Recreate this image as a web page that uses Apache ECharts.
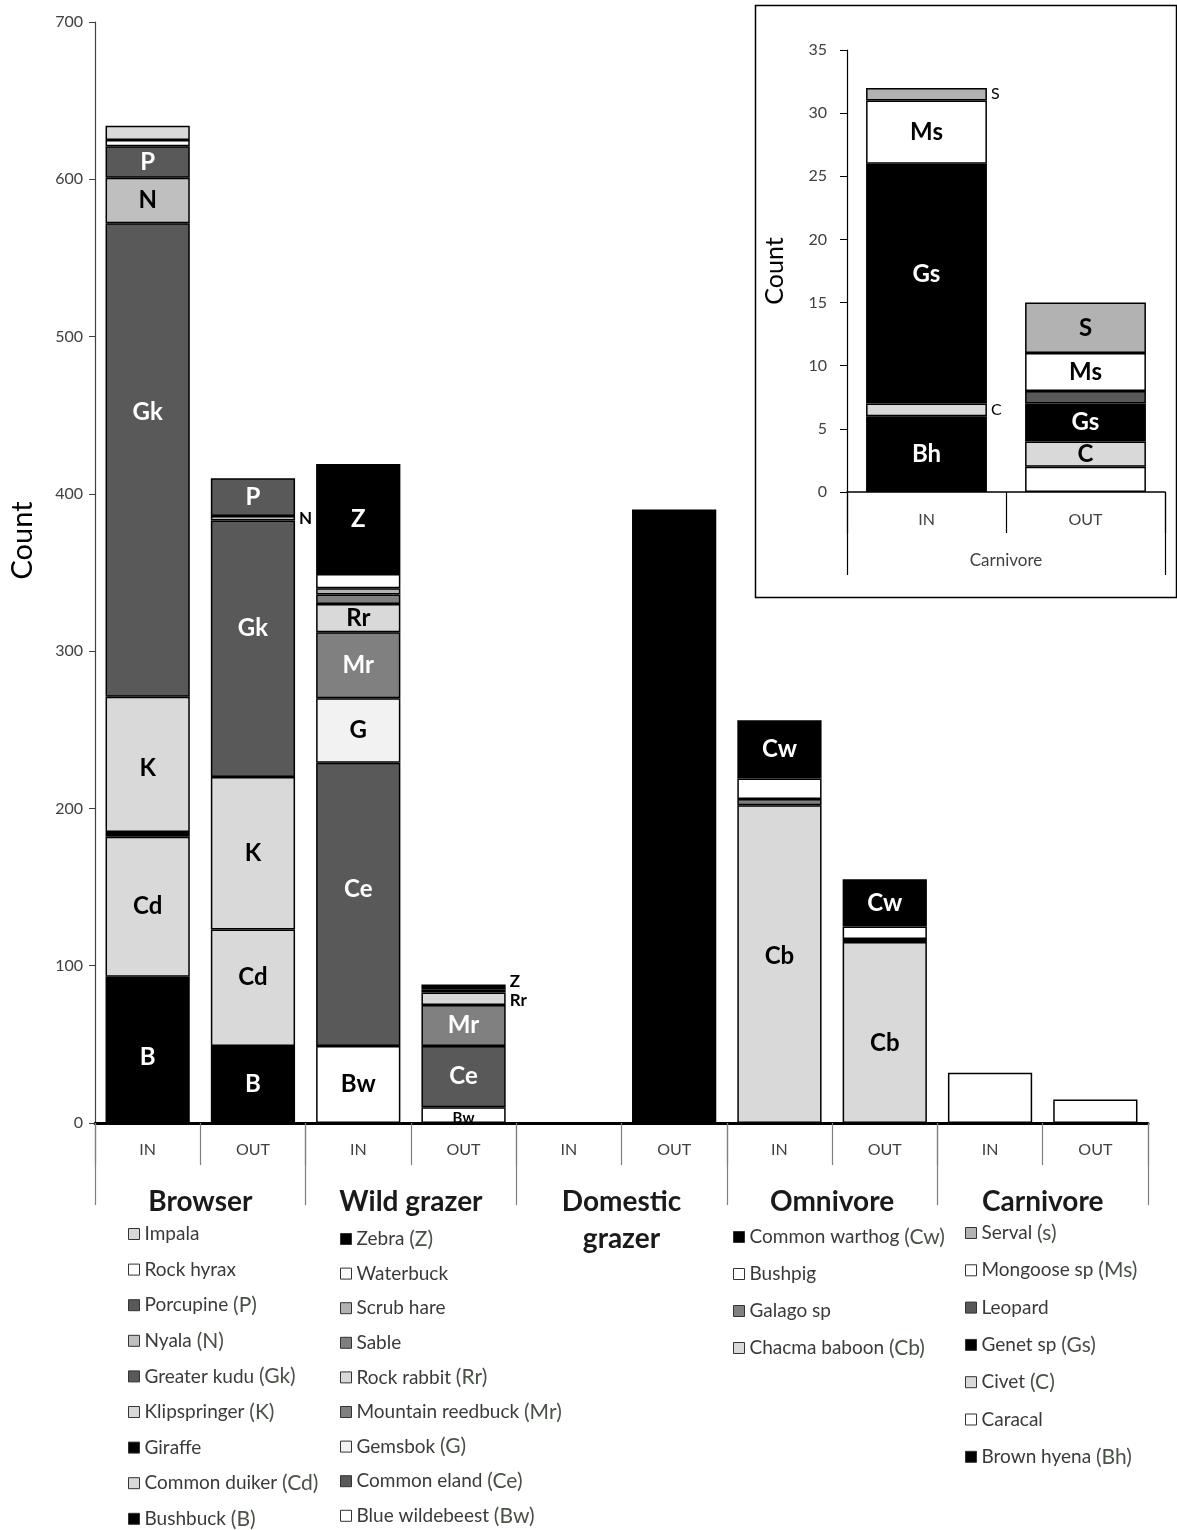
<!DOCTYPE html>
<html>
<head>
<meta charset="utf-8">
<script src="https://cdn.jsdelivr.net/npm/echarts@6/dist/echarts.min.js"></script>
<style>
  html, body { margin: 0; padding: 0; background: #ffffff; }
  #chart { width: 1177px; height: 1530px; }
</style>
</head>
<body>
<div id="chart"></div>
<script>
// ---- categories ----
const barLabels = ['IN', 'OUT', 'IN', 'OUT', 'IN', 'OUT', 'IN', 'OUT', 'IN', 'OUT'];
const groupNames = ['Browser', 'Wild grazer', 'Domestic\ngrazer', 'Omnivore', 'Carnivore'];
const insetBarLabels = ['IN', 'OUT'];
const insetGroup = ['Carnivore'];

// ---- species counts (each list runs bottom-to-top of its stack) ----
const browserSpecies = ['Bushbuck', 'Common duiker', 'Giraffe', 'Klipspringer', 'Greater kudu', 'Nyala', 'Porcupine', 'Rock hyrax', 'Impala'];
const browserAbbr    = ['B', 'Cd', '', 'K', 'Gk', 'N', 'P', '', ''];
const browserIn      = [93, 89, 3, 86, 301, 29, 20, 4, 9];
const browserOut     = [49, 74, 0, 97, 163, 3, 24, 0, 0];

const grazerSpecies = ['Blue wildebeest', 'Common eland', 'Gemsbok', 'Mountain reedbuck', 'Rock rabbit', 'Sable', 'Scrub hare', 'Waterbuck', 'Zebra'];
const grazerAbbr    = ['Bw', 'Ce', 'G', 'Mr', 'Rr', '', '', '', 'Z'];
const grazerIn      = [49, 180, 41, 42, 18, 6, 4, 9, 70];
const grazerOut     = [10, 39, 0, 26, 8, 1, 0, 1, 3];

const domesticIn  = 0;
const domesticOut = 390;

const omnivoreSpecies = ['Chacma baboon', 'Galago sp', 'Bushpig', 'Common warthog'];
const omnivoreAbbr    = ['Cb', '', '', 'Cw'];
const omnivoreIn      = [202, 4, 13, 37];
const omnivoreOut     = [115, 2, 8, 30];

const carnivoreSpecies = ['Brown hyena', 'Caracal', 'Civet', 'Genet sp', 'Leopard', 'Mongoose sp', 'Serval'];
const carnivoreAbbr    = ['Bh', '', 'C', 'Gs', '', 'Ms', 'S'];
const carnivoreIn      = [6, 0, 1, 19, 0, 5, 1];
const carnivoreOut     = [0, 2, 2, 3, 1, 3, 4];

// ---- fills ----
const browserFill   = ['#000000', '#d9d9d9', '#000000', '#d9d9d9', '#595959', '#bfbfbf', '#595959', '#ffffff', '#d9d9d9'];
const grazerFill    = ['#ffffff', '#595959', '#f2f2f2', '#808080', '#d9d9d9', '#7f7f7f', '#b2b2b2', '#ffffff', '#000000'];
const omnivoreFill  = ['#d9d9d9', '#808080', '#ffffff', '#000000'];
const carnivoreFill = ['#000000', '#ffffff', '#d9d9d9', '#000000', '#595959', '#ffffff', '#b2b2b2'];

// segment labels drawn beside a thin segment instead of inside it (species|0=IN,1=OUT)
const labelBeside = { 'Nyala|1': [0, 0], 'Rock rabbit|1': [0, 2], 'Zebra|1': [0, -5], 'Civet|0': [0, 0], 'Serval|0': [0, 0] };
// inside labels nudged away from the segment centre
const labelNudge = {
  'Greater kudu|0': [0, -48], 'Greater kudu|1': [0, -21], 'Common duiker|1': [0, -10],
  'Bushbuck|0': [0, 7], 'Common eland|0': [0, -15], 'Chacma baboon|0': [0, -8],
  'Chacma baboon|1': [0, 11], 'Genet sp|0': [0, -9], 'Klipspringer|0': [0, 4]
};
const labelSmall = { 'Blue wildebeest|1': true };
// legend abbreviation text where it differs from the bar label
const legendAbbrOverride = { 'Serval': 's' };

const FONT = 'Lato';
const darkFills = ['#000000', '#595959', '#808080', '#7f7f7f'];

function buildStack(species, abbr, fills, inVals, outVals, slot, nSlots, xAxisIndex, yAxisIndex, gap, inset) {
  return species.map(function (name, i) {
    const data = [];
    for (let k = 0; k < nSlots; k++) data.push('-');
    [inVals[i], outVals[i]].forEach(function (v, side) {
      if (!v) return;
      const item = { value: v };
      const key = name + '|' + side;
      if (abbr[i]) {
        if (labelBeside[key]) {
          item.label = {
            show: true, position: 'right', distance: 4, offset: labelBeside[key],
            formatter: abbr[i], color: '#000', fontSize: inset ? 16 : 17,
            fontWeight: inset ? 'normal' : 'bold', fontFamily: FONT
          };
        } else {
          const small = !!labelSmall[key];
          item.label = {
            show: true, position: small ? 'insideBottom' : 'inside', distance: -3,
            offset: labelNudge[key] || [0, 0],
            formatter: abbr[i],
            color: darkFills.indexOf(fills[i]) >= 0 ? '#ffffff' : '#000000',
            fontSize: small ? 15 : 24, fontWeight: 'bold', fontFamily: FONT
          };
        }
      }
      data[slot * 2 + side] = item;
    });
    return {
      name: name, type: 'bar', stack: inset ? 'inset' : 'main',
      xAxisIndex: xAxisIndex, yAxisIndex: yAxisIndex,
      barCategoryGap: gap,
      itemStyle: { color: fills[i], borderColor: '#000', borderWidth: 1.5 },
      label: { show: false },
      emphasis: { disabled: true },
      data: data
    };
  });
}

function sum(a) { return a.reduce(function (s, v) { return s + v; }, 0); }

const series = [].concat(
  buildStack(browserSpecies, browserAbbr, browserFill, browserIn, browserOut, 0, 10, 0, 0, '20%', false),
  buildStack(grazerSpecies, grazerAbbr, grazerFill, grazerIn, grazerOut, 1, 10, 0, 0, '20%', false),
  [{
    name: 'Domestic grazer', type: 'bar', stack: 'main', xAxisIndex: 0, yAxisIndex: 0, barCategoryGap: '20%',
    itemStyle: { color: '#000', borderColor: '#000', borderWidth: 1.5 }, emphasis: { disabled: true },
    data: ['-', '-', '-', '-', domesticIn || '-', domesticOut, '-', '-', '-', '-']
  }],
  buildStack(omnivoreSpecies, omnivoreAbbr, omnivoreFill, omnivoreIn, omnivoreOut, 3, 10, 0, 0, '20%', false),
  [{
    name: 'Carnivore total', type: 'bar', stack: 'main', xAxisIndex: 0, yAxisIndex: 0, barCategoryGap: '20%',
    itemStyle: { color: '#fff', borderColor: '#000', borderWidth: 1.5 }, emphasis: { disabled: true },
    data: ['-', '-', '-', '-', '-', '-', '-', '-', sum(carnivoreIn), sum(carnivoreOut)]
  }],
  buildStack(carnivoreSpecies, carnivoreAbbr, carnivoreFill, carnivoreIn, carnivoreOut, 0, 2, 2, 1, '24%', true)
);

const abbrByName = {};
[[browserSpecies, browserAbbr], [grazerSpecies, grazerAbbr], [omnivoreSpecies, omnivoreAbbr], [carnivoreSpecies, carnivoreAbbr]]
  .forEach(function (p) { p[0].forEach(function (n, i) { abbrByName[n] = legendAbbrOverride[n] || p[1][i]; }); });

function legendBlock(names, left, top, gap) {
  return {
    data: names.slice().reverse(), orient: 'vertical', left: left, top: top, padding: 0,
    itemGap: gap, itemWidth: 11, itemHeight: 11, icon: 'rect', selectedMode: false,
    itemStyle: { borderColor: '#333', borderWidth: 1 },
    formatter: function (n) { return abbrByName[n] ? n + ' {ab|(' + abbrByName[n] + ')}' : n; },
    textStyle: {
      fontFamily: FONT, fontSize: 19, color: '#3a3a3a', lineHeight: 22,
      rich: { ab: { fontFamily: FONT, fontSize: 21, color: '#4a5147', lineHeight: 22 } }
    }
  };
}

const tickLine = { color: '#7f7f7f', width: 1.2 };

const option = {
  animation: false,
  backgroundColor: '#ffffff',
  textStyle: { fontFamily: FONT },
  grid: [
    { left: 95, right: 29, top: 22, bottom: 407, containLabel: false },
    { left: 847, right: 12, top: 50, bottom: 1038, containLabel: false }
  ],
  xAxis: [
    {
      gridIndex: 0, type: 'category', data: barLabels, position: 'bottom',
      axisLine: { onZero: false, lineStyle: { color: '#000', width: 3 } },
      axisTick: { show: true, length: 42, lineStyle: tickLine },
      axisLabel: { margin: 19, fontSize: 16, color: '#404040', fontFamily: FONT }
    },
    {
      gridIndex: 0, type: 'category', data: groupNames, position: 'bottom', offset: 0,
      axisLine: { show: false, onZero: false },
      axisTick: { show: true, length: 82, lineStyle: tickLine },
      axisLabel: { margin: 60, fontSize: 28, fontWeight: 'bold', color: '#1a1a1a', lineHeight: 37, fontFamily: FONT }
    },
    {
      gridIndex: 1, type: 'category', data: insetBarLabels, position: 'bottom',
      axisLine: { onZero: false, lineStyle: { color: '#000', width: 1.5 } },
      axisTick: { show: true, length: 41, lineStyle: { color: '#000', width: 1.2 } },
      axisLabel: { margin: 20, fontSize: 16, color: '#404040', fontFamily: FONT }
    },
    {
      gridIndex: 1, type: 'category', data: insetGroup, position: 'bottom', offset: 0,
      axisLine: { show: false, onZero: false },
      axisTick: { show: true, length: 83, lineStyle: { color: '#000', width: 1.2 } },
      axisLabel: { margin: 60, fontSize: 17, color: '#404040', fontFamily: FONT }
    }
  ],
  yAxis: [
    {
      gridIndex: 0, type: 'value', min: 0, max: 700, interval: 100,
      name: 'Count', nameLocation: 'middle', nameGap: 58,
      nameTextStyle: { fontSize: 29, color: '#000', fontFamily: FONT, padding: [0, 0, 0, 64] },
      axisLine: { show: true, lineStyle: { color: '#404040', width: 1.2 } },
      axisTick: { show: true, length: 6, lineStyle: { color: '#404040' } },
      splitLine: { show: false },
      axisLabel: { margin: 12, fontSize: 16, color: '#404040', fontFamily: FONT }
    },
    {
      gridIndex: 1, type: 'value', min: 0, max: 35, interval: 5,
      name: 'Count', nameLocation: 'middle', nameGap: 60,
      nameTextStyle: { fontSize: 25, color: '#000', fontFamily: FONT },
      axisLine: { show: true, lineStyle: { color: '#000', width: 1.2 } },
      axisTick: { show: true, length: 7, lineStyle: { color: '#000' } },
      splitLine: { show: false },
      axisLabel: { margin: 20, fontSize: 16, color: '#404040', fontFamily: FONT }
    }
  ],
  legend: [
    legendBlock(browserSpecies, 128, 1223, 13.6),
    legendBlock(grazerSpecies, 340, 1228, 12.6),
    legendBlock(omnivoreSpecies, 733, 1226, 15),
    legendBlock(carnivoreSpecies, 965, 1222, 15.3)
  ],
  graphic: [
    {
      type: 'rect', silent: true, z: 0,
      shape: { x: 755.5, y: 5.5, width: 421, height: 592 },
      style: { fill: 'none', stroke: '#000', lineWidth: 1.5 }
    }
  ],
  series: series
};

const chart = echarts.init(document.getElementById('chart'), null, { renderer: 'canvas' });
chart.setOption(option);
</script>
</body>
</html>
